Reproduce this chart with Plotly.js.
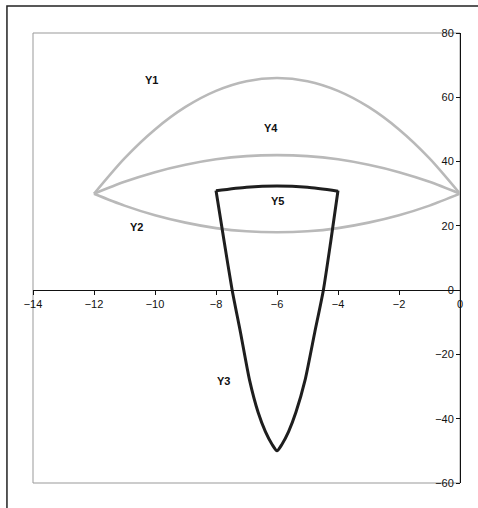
<!DOCTYPE html>
<html>
<head>
<meta charset="utf-8">
<script src="https://cdn.plot.ly/plotly-3.0.1.min.js"></script>
<style>
  body { margin: 0; background: #fff; }
  #graph { width: 478px; height: 508px; }
</style>
</head>
<body>
<div id="graph"></div>
<script>
// values
var xArc = [-12, -11, -10, -9, -8, -7, -6, -5, -4, -3, -2, -1, 0];
var y1 = [30, 41, 50, 57, 62, 65, 66, 65, 62, 57, 50, 41, 30];
var y4 = [30, 33.7, 36.7, 39, 40.7, 41.7, 42, 41.7, 40.7, 39, 36.7, 33.7, 30];
var y2 = [30, 26.3, 23.3, 21, 19.3, 18.3, 18, 18.3, 19.3, 21, 23.3, 26.3, 30];

var x3 = [-8, -7.73, -7.47, -7.2, -6.9, -6.62, -6.38, -6.16, -6, -5.84, -5.62, -5.38, -5.08, -4.76, -4.48, -4.24, -4];
var y3 = [31, 15, 0, -13, -28, -38, -44, -48, -50, -48, -44, -38, -28, -13, 0, 15, 31];

var x5 = [-8, -7, -6, -5, -4];
var y5 = [30.9, 32, 32.4, 32, 30.8];

var labels = ["Y1", "Y4", "Y2", "Y5", "Y3"];
var labelX = [-10.1, -6.2, -10.6, -6.0, -7.75];
var labelY = [65.3, 50.4, 19.6, 27.7, -28.3];

var xTicks = [-14, -12, -10, -8, -6, -4, -2, 0];
var yTicks = [-60, -40, -20, 0, 20, 40, 60, 80];

function drawGraph() {
    var grey = {color: "#b9b9b9", width: 2.6, shape: "spline", smoothing: 0.8};
    var dark = {color: "#1e1e1e", width: 3, shape: "spline", smoothing: 0.6};

    var data = [
        {x: xArc, y: y1, mode: "lines", line: grey},
        {x: xArc, y: y4, mode: "lines", line: grey},
        {x: xArc, y: y2, mode: "lines", line: grey},
        {x: x3, y: y3, mode: "lines", line: dark},
        {x: x5, y: y5, mode: "lines", line: dark}
    ];

    var annotations = [];
    for (var i = 0; i < labels.length; i++) {
        annotations.push({
            x: labelX[i], y: labelY[i], text: "<b>" + labels[i] + "</b>", showarrow: false,
            font: {family: "Liberation Sans, Arial", size: 11, color: "#111"}
        });
    }

    var layout = {
        width: 478,
        height: 508,
        margin: {l: 33, r: 18, t: 33, b: 25},
        showlegend: false,
        paper_bgcolor: "#fff",
        plot_bgcolor: "#fff",
        font: {family: "Liberation Sans, Arial", size: 11, color: "#111"},
        xaxis: {
            range: [-14, 0],
            tickvals: xTicks,
            showgrid: false,
            zeroline: false,
            showline: true,
            linecolor: "#111",
            linewidth: 1,
            ticks: "outside",
            ticklen: 4,
            tickcolor: "#111",
            tickfont: {color: "#111", size: 11},
            anchor: "free",
            position: 60 / 140
        },
        yaxis: {
            range: [-60, 80],
            tickvals: yTicks,
            side: "left",
            anchor: "free",
            position: 1,
            showgrid: false,
            zeroline: false,
            showline: true,
            linecolor: "#111",
            linewidth: 1,
            ticks: "outside",
            ticklen: 4,
            tickcolor: "#111",
            tickfont: {color: "#111", size: 11}
        },
        shapes: [
            // plot area frame
            {type: "rect", xref: "paper", yref: "paper", x0: 0, x1: 1, y0: 0, y1: 1,
             line: {color: "#999", width: 1}, layer: "below"},
            // outer chart border
            {type: "rect", xref: "paper", yref: "paper", x0: -0.061, x1: 1.1, y0: -0.1, y1: 1.06,
             line: {color: "#222", width: 1.5}}
        ],
        annotations: annotations
    };

    Plotly.newPlot("graph", data, layout, {displayModeBar: false});
}

drawGraph();
</script>
</body>
</html>
